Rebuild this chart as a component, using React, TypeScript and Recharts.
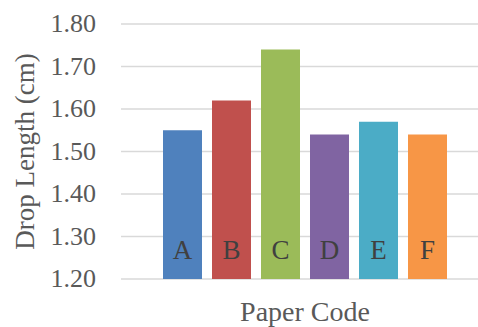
import React from 'react';
import { BarChart, Bar, XAxis, YAxis, CartesianGrid, Cell, LabelList, Label } from 'recharts';

const paperCodes = ['A', 'B', 'C', 'D', 'E', 'F'];
const dropLengths = [1.55, 1.62, 1.74, 1.54, 1.57, 1.54];
const barColors = ['#4F81BD', '#C0504D', '#9BBB59', '#8064A2', '#4BACC6', '#F79646'];
const yTicks = [1.2, 1.3, 1.4, 1.5, 1.6, 1.7, 1.8];

const FONT = "'Liberation Serif', 'Times New Roman', serif";
const TEXT = '#595959';

const data = paperCodes.map((code, i) => ({ code, value: dropLengths[i] }));

if (typeof document !== 'undefined') document.body.style.margin = '0';

// letter drawn near the foot of each bar
function CodeLabel(props: any) {
  const { x, y, width, height, value } = props;
  return (
    <text
      x={x + width / 2}
      y={y + height - 20}
      textAnchor="middle"
      style={{ fontFamily: FONT, fontSize: 27, fill: '#404040' }}
    >
      {value}
    </text>
  );
}

function AxisTitle(props: any) {
  const { viewBox } = props;
  return (
    <text
      x={305}
      y={viewBox.y + viewBox.height - 6}
      textAnchor="middle"
      style={{ fontFamily: FONT, fontSize: 28, fill: TEXT }}
    >
      Paper Code
    </text>
  );
}

function YTick(props: any) {
  const { x, y, payload } = props;
  return (
    <text x={x} y={y} dy={8} textAnchor="end" style={{ fontFamily: FONT, fontSize: 26, fill: TEXT }}>
      {Number(payload.value).toFixed(2)}
    </text>
  );
}

function YTitle(props: any) {
  const { viewBox } = props;
  const cx = 25;
  const cy = viewBox.y + viewBox.height / 2;
  return (
    <text
      x={cx}
      y={cy}
      transform={`rotate(-90, ${cx}, ${cy})`}
      textAnchor="middle"
      dominantBaseline="central"
      style={{ fontFamily: FONT, fontSize: 27, fill: TEXT }}
    >
      Drop Length (cm)
    </text>
  );
}

export default function App() {
  return (
    <div style={{ width: 478, height: 327, background: '#fff', fontFamily: FONT }}>
      <BarChart
        width={478}
        height={327}
        data={data}
        margin={{ top: 24, right: 0, bottom: 0, left: 0 }}
        barCategoryGap={5}
      >
        <CartesianGrid vertical={false} stroke="#d9d9d9" strokeWidth={1.5} />
        <XAxis
          dataKey="code"
          tick={false}
          tickLine={false}
          axisLine={false}
          height={48}
          padding={{ left: 37, right: 26 }}
        >
          <Label content={<AxisTitle />} />
        </XAxis>
        <YAxis
          width={121}
          domain={[1.2, 1.8]}
          ticks={yTicks}
          tickLine={false}
          axisLine={false}
          tickSize={0}
          tickMargin={25}
          tick={<YTick />}
        >
          <Label content={<YTitle />} />
        </YAxis>
        <Bar dataKey="value" isAnimationActive={false} barSize={39}>
          {data.map((d, i) => (
            <Cell key={d.code} fill={barColors[i]} />
          ))}
          <LabelList dataKey="code" content={<CodeLabel />} />
        </Bar>
      </BarChart>
    </div>
  );
}
